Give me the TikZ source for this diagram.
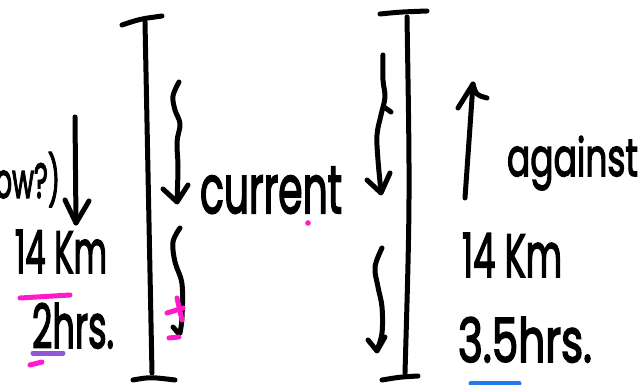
\documentclass[tikz,border=0pt]{standalone}
\usepackage{graphicx}
\usepackage{fontspec}
\setmainfont{Poppins}
\newfontfamily\handfont{Poppins}[FakeBold=3]
\definecolor{inkpink}{HTML}{FF1ACB}
\definecolor{inkpurple}{HTML}{9257D4}
\definecolor{inkblue}{HTML}{1F7BEF}
\tikzset{
  pen/.style={line width=5pt, line cap=round, line join=round, black},
  hl/.style={line width=5pt, line cap=round},
  word/.style={inner sep=0pt, outer sep=0pt, anchor=base west, font=\handfont},
}
\begin{document}
\begin{tikzpicture}[x=1pt, y=-1pt]
\clip (0,0) rectangle (638,385);
\fill[white] (0,0) rectangle (638,385);

% ---- left river bank: bar with end caps ----
\coordinate (LT) at (145,22);
\coordinate (LB) at (152,373);
\draw[pen] (LT) -- (LB);
\draw[pen] (122,25) .. controls (140,19) .. (162,16);
\draw[pen] (133,380) .. controls (150,377) .. (175,380);

% ---- right river bank ----
\coordinate (RT) at (407,17);
\coordinate (RB) at (405,373);
\draw[pen] (RT) .. controls (410,200) .. (RB);
\draw[pen] (380,14) .. controls (400,12) .. (427,11);
\draw[pen] (382,380) .. controls (400,377) .. (418,376);

% ---- wavy current arrows beside the left bar ----
\draw[pen] plot[smooth, tension=0.6] coordinates {(179,82) (173,96) (175,110) (180,124) (177,142) (178,167) (177,201)};
\draw[pen] (163,189) -- (177,202) -- (188,185);
\draw[pen] plot[smooth, tension=0.6] coordinates {(180,228) (173,242) (175,262) (182,284) (182,317) (180,333)};
\draw[pen] (173,327) -- (179,334);
\draw[hl, inkpink] (167,313) -- (183,308);
\draw[hl, inkpink] (177,298) -- (182,320);
\draw[hl, inkpink] (169,338) -- (179,337);
\fill[inkpink] (308,223) circle (2.8);

% ---- wavy current arrows beside the right bar ----
\draw[pen] plot[smooth, tension=0.6] coordinates {(383,55) (383,80) (385,97) (381,115) (377,135) (378,160) (381,192)};
\draw[pen] (384,107) -- (391,112);
\draw[pen] (367,180) -- (381,193) -- (390,173);
\draw[pen] plot[smooth, tension=0.6] coordinates {(382,248) (375,267) (378,287) (382,307) (382,333) (377,350)};
\draw[pen] (368,340) -- (377,351) -- (385,337);

% ---- upstream arrow ----
\coordinate (UA) at (465,198);
\coordinate (UB) at (473,84);
\draw[pen] (UA) -- (UB);
\draw[pen] (458,108) -- (UB) .. controls (476,95) .. (487,98);

% ---- downstream arrow on the left ----
\coordinate (DA) at (75,117);
\coordinate (DB) at (76,223);
\draw[pen] (DA) -- (DB);
\draw[pen] (65,200) -- (DB) -- (89,201);

% ---- labels ----
\node[word] (now) at (-22,198) {\resizebox{82pt}{46pt}{now?)}};
\node[word] (kmL) at (15,273) {\resizebox{92pt}{43pt}{14 Km}};
\node[word] (hrsL) at (32,348) {\resizebox{82pt}{45pt}{2hrs.}};
\node[word] (cur) at (200,213) {\resizebox{142pt}{46pt}{current}};
\node[word] (ag) at (507,176) {\resizebox{131pt}{40pt}{against}};
\node[word] (kmR) at (462,277) {\resizebox{100pt}{44pt}{14 Km}};
\node[word] (hrsR) at (458,362) {\resizebox{134pt}{45pt}{3.5hrs.}};

% ---- highlighter marks ----
\draw[hl, inkpink] (20,298) -- (70,295);
\draw[hl, inkpurple] (33,353) -- (63,353);
\draw[hl, inkpink] (30,365) -- (42,362);
\draw[hl, inkblue] (471,383) -- (519,383);
\end{tikzpicture}
\end{document}
